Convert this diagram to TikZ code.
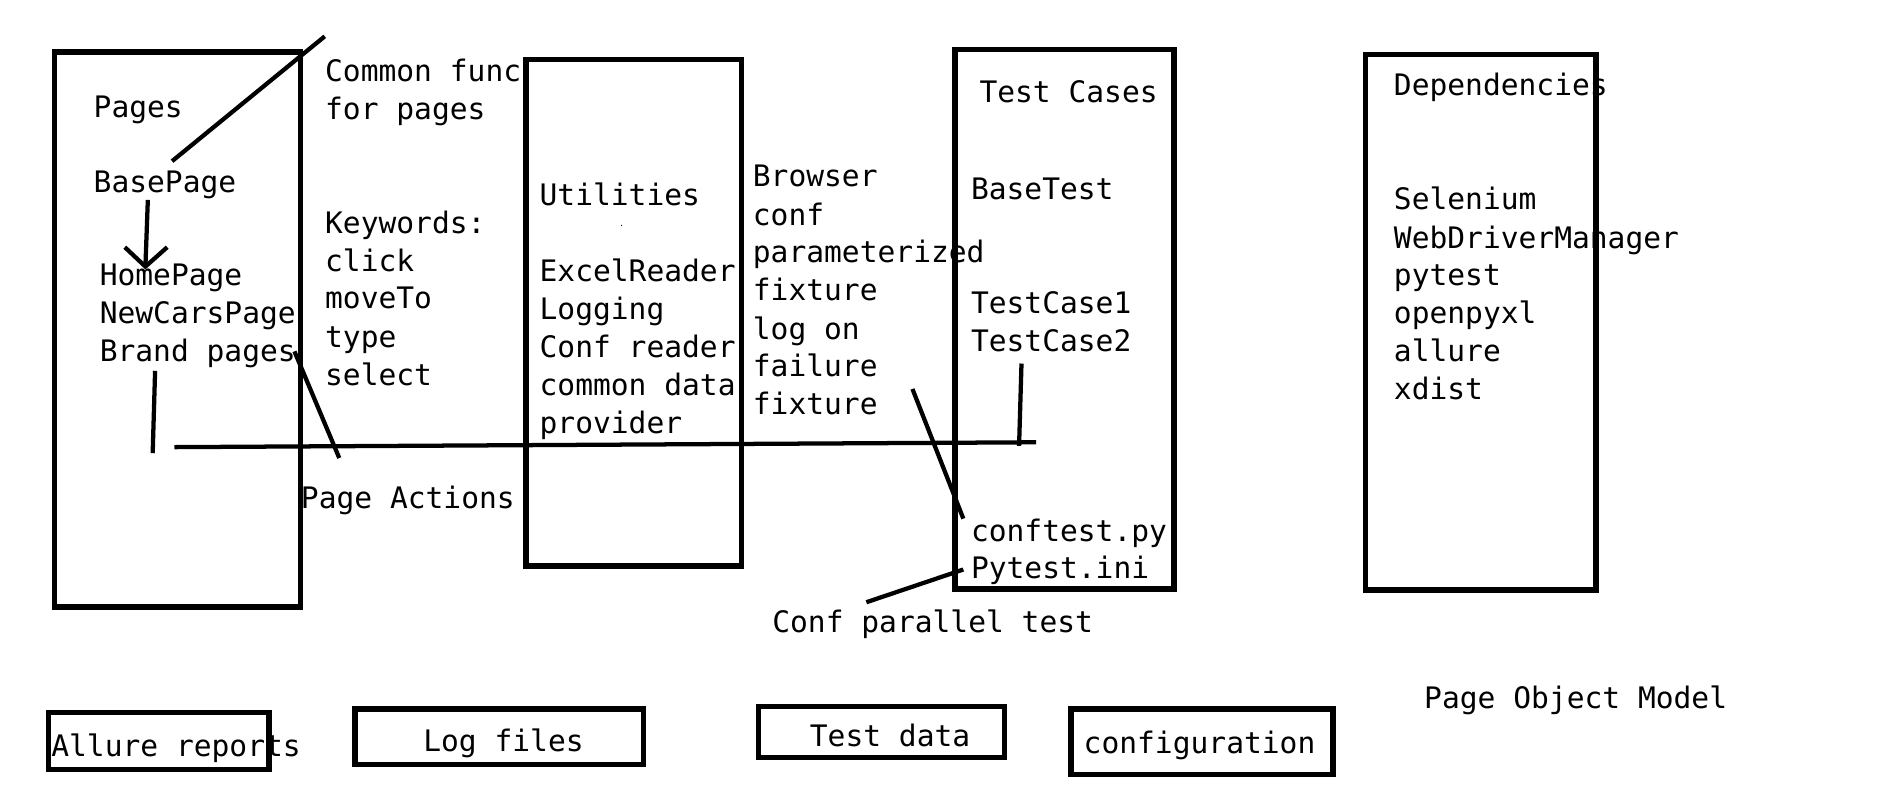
\documentclass[tikz,border=0pt]{standalone}
\usepackage{fontspec}
\setmonofont{DejaVu Sans Mono}
\usetikzlibrary{fit}
\begin{document}
\begin{tikzpicture}[x=0.02cm,y=-0.02cm,
  box/.style={draw=black,line width=2.6pt,inner sep=0pt},
  conn/.style={draw=black,line width=2pt},
  txt/.style={anchor=base west,inner sep=0pt,yshift=-0.04cm,font=\ttfamily\fontsize{13.9}{17}\selectfont}]
\useasboundingbox (0,0) rectangle (1568,666);
% main boxes
\node[box,fit={(45,43) (248,501)}] (pagesbox) {};
\node[box,fit={(434,49) (612,467)}] (utilbox) {};
\node[box,fit={(788,41) (969,486)}] (testbox) {};
\node[box,fit={(1127,45) (1317,487)}] (depbox) {};
% bottom boxes
\node[box,fit={(40,588) (222,635)}] (allurebox) {};
\node[box,fit={(293,585) (531,631)}] (logbox) {};
\node[box,fit={(626,583) (829,625)}] (databox) {};
\node[box,fit={(884,585) (1100,639)}] (confbox) {};
% Pages column
\node[txt] (pages) at (77,95) {Pages};
\node[txt] (basepage) at (77,157) {BasePage};
\node[txt] (homepage) at (82,234) {HomePage};
\node[txt] (newcars) at (82,265) {NewCarsPage};
\node[txt] (brand) at (82,296) {Brand pages};
% common functions
\node[txt] (common1) at (268,65) {Common func};
\node[txt] (common2) at (268,97) {for pages};
\node[txt] (kw) at (268,191) {Keywords:};
\node[txt] (kw1) at (268,222) {click};
\node[txt] (kw2) at (268,253) {moveTo};
\node[txt] (kw3) at (268,285) {type};
\node[txt] (kw4) at (268,316) {select};
\node[txt] (actions) at (248,418) {Page Actions};
% Utilities
\node[txt] (util) at (445,168) {Utilities};
\node[txt] (u1) at (445,230) {ExcelReader};
\node[txt] (u2) at (445,262) {Logging};
\node[txt] (u3) at (445,293) {Conf reader};
\node[txt] (u4) at (445,324) {common data};
\node[txt] (u5) at (445,356) {provider};
\fill (513,186) circle (0.6);
% Browser conf
\node[txt] (b1) at (621,152) {Browser};
\node[txt] (b2) at (621,184) {conf};
\node[txt] (b3) at (621,215) {parameterized};
\node[txt] (b4) at (621,246) {fixture};
\node[txt] (b5) at (621,278) {log on};
\node[txt] (b6) at (621,309) {failure};
\node[txt] (b7) at (621,340) {fixture};
% Test cases
\node[txt] (tc) at (808,83) {Test Cases};
\node[txt] (basetest) at (801,163) {BaseTest};
\node[txt] (tc1) at (801,257) {TestCase1};
\node[txt] (tc2) at (801,288) {TestCase2};
\node[txt] (conftest) at (801,445) {conftest.py};
\node[txt] (pytestini) at (801,475) {Pytest.ini};
\node[txt] (parallel) at (637,520) {Conf parallel test};
% Dependencies
\node[txt] (dep) at (1150,77) {Dependencies};
\node[txt] (d1) at (1150,171) {Selenium};
\node[txt] (d2) at (1150,203) {WebDriverManager};
\node[txt] (d3) at (1150,234) {pytest};
\node[txt] (d4) at (1150,265) {openpyxl};
\node[txt] (d5) at (1150,296) {allure};
\node[txt] (d6) at (1150,328) {xdist};
\node[txt] (pom) at (1175,583) {Page Object Model};
% bottom labels
\node[txt] (allure) at (42,622) {Allure reports};
\node[txt] (logs) at (349,618) {Log files};
\node[txt] (tdata) at (668,614) {Test data};
\node[txt] (config) at (894,620) {configuration};
% connector end points
\coordinate (p1) at (142,133);
\coordinate (p2) at (268,30);
\coordinate (a1) at (122,165);
\coordinate (a2) at (120,220);
\coordinate (a3) at (103,204);
\coordinate (a4) at (138,204);
\coordinate (v1) at (128,306);
\coordinate (v2) at (126,374);
\coordinate (h1) at (144,369);
\coordinate (h2) at (855,365);
\coordinate (r1) at (843,300);
\coordinate (r2) at (841,368);
\coordinate (q1) at (243,290);
\coordinate (q2) at (280,378);
\coordinate (f1) at (753,321);
\coordinate (f2) at (795,428);
\coordinate (g1) at (715,497);
\coordinate (g2) at (795,470);
% connectors
\draw[conn] (p1) -- (p2);
\draw[conn] (a1) -- (a2);
\draw[conn] (a3) -- (a2) -- (a4);
\draw[conn] (v1) -- (v2);
\draw[conn] (h1) -- (h2);
\draw[conn] (r1) -- (r2);
\draw[conn] (q1) -- (q2);
\draw[conn] (f1) -- (f2);
\draw[conn] (g1) -- (g2);
\end{tikzpicture}
\end{document}
